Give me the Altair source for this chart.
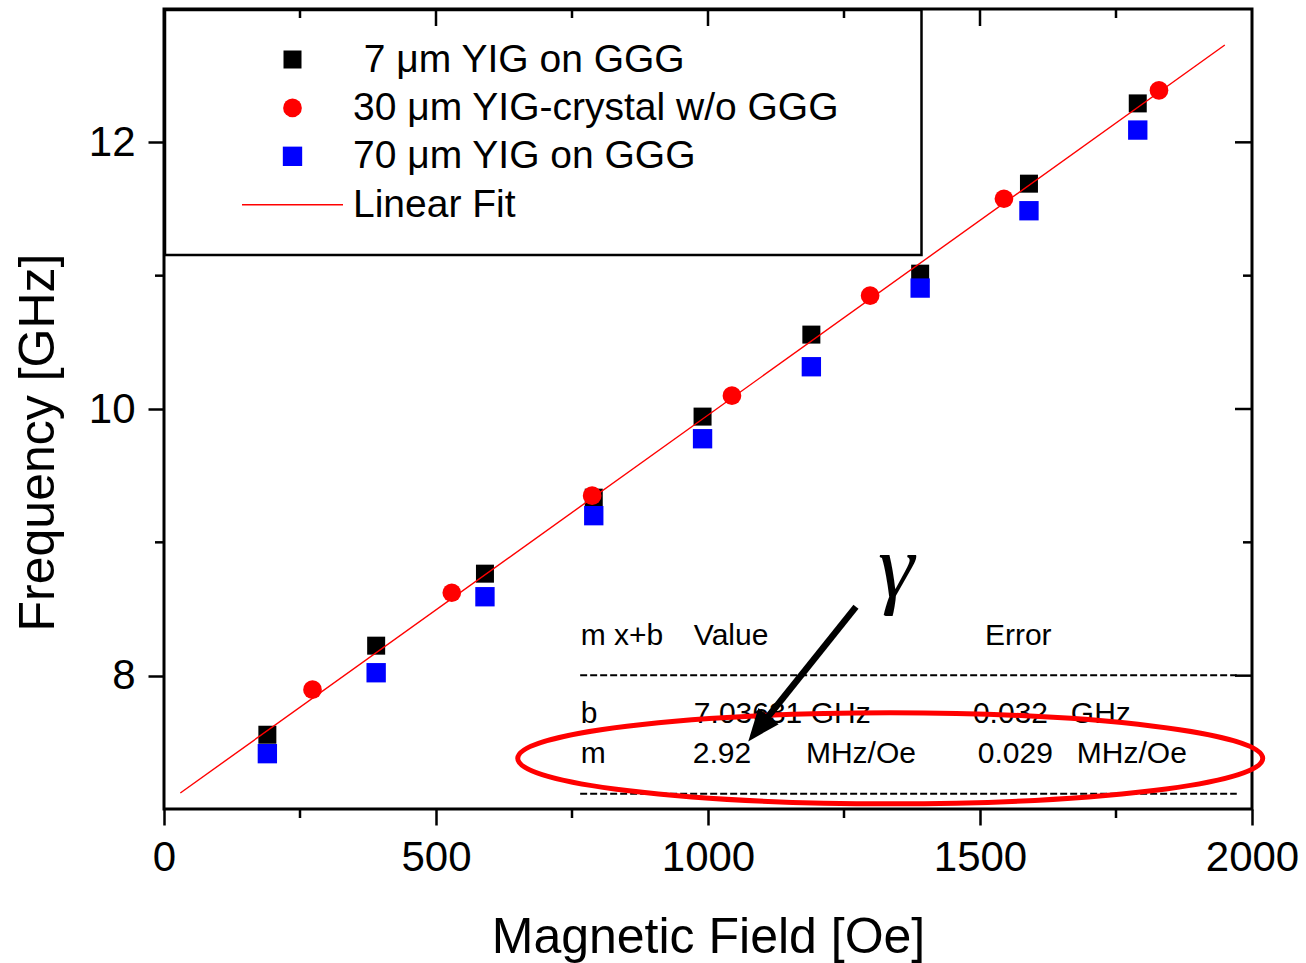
import math
import altair as alt
import pandas as pd

# ---------------- data ----------------
field_sq = [190, 390, 590, 790, 990, 1190, 1390, 1590, 1790]
freq_7um = [7.557, 8.225, 8.765, 9.335, 9.943, 10.558, 11.015, 11.69, 12.292]
freq_70um = [7.415, 8.022, 8.592, 9.20, 9.777, 10.317, 10.907, 11.487, 12.092]
field_30um = [273, 529, 787, 1044, 1298, 1544, 1829]
freq_30um = [7.895, 8.622, 9.350, 10.10, 10.85, 11.577, 12.39]
fit_field = [30, 1950]
fit_freq = [7.12, 12.73]

series_labels = ["\u200b 7 \u03bcm YIG on GGG", "30 \u03bcm YIG-crystal w/o GGG",
                 "70 \u03bcm YIG on GGG", "Linear Fit"]
series_colors = ["#000000", "#ff0000", "#0000ff", "#ff0000"]

x_major = [0, 500, 1000, 1500, 2000]
x_minor = [250, 750, 1250, 1750]
x_top_major = [500, 1000, 1500]
y_major = [8, 10, 12]
y_minor = [9, 11]

# fit table annotation
tab_x = [766, 974, 1509, 766, 974, 1487, 1667, 766, 972, 1180, 1496, 1678]
tab_y = [8.232, 8.232, 8.232, 7.645, 7.645, 7.645, 7.645, 7.345, 7.345, 7.345, 7.345, 7.345]
tab_text = ["m x+b", "Value", "Error", "b", "7.03631 GHz", "0.032", "GHz",
            "m", "2.92", "MHz/Oe", "0.029", "MHz/Oe"]
dash_x = [765, 765]
dash_x2 = [1972, 1972]
dash_y = [8.004, 7.115]

ellipse_x = [1335]
ellipse_y = [7.38]
arrow_start = [1272, 8.517]
arrow_tip = [1074, 7.507]
gamma_x = [1346]
gamma_y = [8.59]

# ---------------- layout constants ----------------
W, H = 1088, 800
XDOM, YDOM = [0, 2000], [7, 13]
FONT = "Liberation Sans"

xscale = alt.Scale(domain=XDOM, nice=False, zero=False)
yscale = alt.Scale(domain=YDOM, nice=False, zero=False)

xaxis = alt.Axis(values=x_major, title="Magnetic Field [Oe]", format="d", grid=False,
                 domain=False, tickSize=16, tickWidth=2.5, tickColor="black",
                 labelFontSize=42, labelFont=FONT, labelColor="black", labelPadding=12,
                 labelFlush=False, labelOverlap=False,
                 titleFont=FONT, titleFontSize=50, titleFontWeight="normal", titleColor="black",
                 titleX=W / 2, titleY=143, titleBaseline="alphabetic", titleAlign="center")
yaxis = alt.Axis(values=y_major, title="Frequency [GHz]", format="d", grid=False,
                 domain=False, tickSize=16, tickWidth=2.5, tickColor="black",
                 labelFontSize=42, labelFont=FONT, labelColor="black", labelPadding=13,
                 labelFlush=False, labelOverlap=False,
                 titleFont=FONT, titleFontSize=50, titleFontWeight="normal", titleColor="black",
                 titleX=-111, titleY=433, titleBaseline="alphabetic", titleAlign="center",
                 titleAngle=270)

X = alt.X("x:Q", scale=xscale, axis=xaxis)
Y = alt.Y("y:Q", scale=yscale, axis=yaxis)

# legend symbols: custom thin bar for the fit line entry
LINE_SYMBOL = "M-5.05,-0.07L5.05,-0.07L5.05,0.07L-5.05,0.07Z"
legend = alt.Legend(title=None, orient="none", legendX=109, legendY=31, padding=0,
                    symbolSize=484, symbolStrokeWidth=0, symbolOpacity=1,
                    labelFont=FONT, labelFontSize=39, labelColor="black", labelLimit=1000,
                    labelOffset=41, rowPadding=8.4)
color = alt.Color("series:N", scale=alt.Scale(domain=series_labels, range=series_colors),
                  legend=legend)
shape = alt.Shape("series:N", scale=alt.Scale(domain=series_labels,
                  range=["square", "circle", "square", LINE_SYMBOL]), legend=legend)
size = alt.Size("series:N", scale=alt.Scale(domain=series_labels, range=[324, 400, 324, 400]),
                legend=None)

# ---------------- tables ----------------
pts = pd.concat([
    pd.DataFrame({"x": field_sq, "y": freq_7um, "series": series_labels[0]}),
    pd.DataFrame({"x": field_sq, "y": freq_70um, "series": series_labels[2]}),
    pd.DataFrame({"x": field_30um, "y": freq_30um, "series": series_labels[1]}),
], ignore_index=True)
pts["order"] = range(len(pts))
fit = pd.DataFrame({"x": fit_field, "y": fit_freq, "series": series_labels[3]})

# ---------------- layers ----------------
def xticks(vals, y0, y1):
    return alt.Chart(pd.DataFrame({"x": vals})).mark_rule(
        color="black", strokeWidth=2.5).encode(x=X, y=alt.value(y0), y2=alt.value(y1))


def yticks(vals, x0, x1):
    return alt.Chart(pd.DataFrame({"y": vals})).mark_rule(
        color="black", strokeWidth=2.5).encode(y=Y, x=alt.value(x0), x2=alt.value(x1))


ticks = [
    xticks(x_minor, H, H + 9),          # bottom minor, outward
    xticks(x_minor, 0, 9),              # top minor, inward
    xticks(x_top_major, 0, 17),         # top major, inward
    yticks(y_minor, -9, 0),             # left minor, outward
    yticks(y_minor, W - 9, W),          # right minor, inward
    yticks(y_major, W - 17, W),         # right major, inward
]

legend_frame = alt.Chart(pd.DataFrame({"x": [0]})).mark_rect(
    fill="white", stroke="black", strokeWidth=2.5).encode(
    x=alt.value(1), x2=alt.value(757.5), y=alt.value(1), y2=alt.value(246))

dashes = alt.Chart(pd.DataFrame({"x": dash_x, "x2": dash_x2, "y": dash_y})).mark_rule(
    color="black", strokeWidth=2, strokeDash=[7, 3]).encode(x=X, x2="x2:Q", y=Y)

table = alt.Chart(pd.DataFrame({"x": tab_x, "y": tab_y, "t": tab_text})).mark_text(
    align="left", baseline="alphabetic", font=FONT, fontSize=30, color="black").encode(
    x=X, y=Y, text="t:N")

points = alt.Chart(pts).mark_point(filled=True, opacity=1, strokeWidth=0).encode(
    x=X, y=Y, color=color, shape=shape, size=size, order="order:Q")

fit_line = alt.Chart(fit).mark_line(strokeWidth=1.4).encode(x=X, y=Y, color=color)

b = 45.5 / 372.5
k = 0.5523
kb = k * b
ELLIPSE = (f"M-1,0C-1,{-kb:.4f} {-k},{-b:.4f} 0,{-b:.4f}C{k},{-b:.4f} 1,{-kb:.4f} 1,0"
           f"C1,{kb:.4f} {k},{b:.4f} 0,{b:.4f}C{-k},{b:.4f} -1,{kb:.4f} -1,0Z")
ellipse = alt.Chart(pd.DataFrame({"x": ellipse_x, "y": ellipse_y})).mark_point(
    shape=ELLIPSE, size=(2 * 372.5) ** 2, filled=False, stroke="#ff0000", strokeWidth=5,
    opacity=1).encode(x=X, y=Y)

# arrow: shaft + rotated head
frac = 0.84
shaft_end = [arrow_start[0] + frac * (arrow_tip[0] - arrow_start[0]),
             arrow_start[1] + frac * (arrow_tip[1] - arrow_start[1])]
shaft = alt.Chart(pd.DataFrame({"x": [arrow_start[0]], "y": [arrow_start[1]],
                                "x2": [shaft_end[0]], "y2": [shaft_end[1]]})).mark_rule(
    color="black", strokeWidth=6.5).encode(x=X, y=Y, x2="x2:Q", y2="y2:Q")
dx = (arrow_tip[0] - arrow_start[0]) * W / (XDOM[1] - XDOM[0])
dy = -(arrow_tip[1] - arrow_start[1]) * H / (YDOM[1] - YDOM[0])
ang = math.degrees(math.atan2(dx, -dy)) % 360
head = alt.Chart(pd.DataFrame({"x": [arrow_tip[0]], "y": [arrow_tip[1]]})).mark_point(
    shape="M0,0L-1,2.5L1,2.5Z", size=676, filled=True, color="black", opacity=1,
    angle=ang).encode(x=X, y=Y)

gamma = alt.Chart(pd.DataFrame({"x": gamma_x, "y": gamma_y})).mark_text(
    text="\u03b3", font="Liberation Serif", fontStyle="italic", fontSize=92,
    align="center", baseline="alphabetic", color="black").encode(x=X, y=Y)

chart = alt.layer(
    legend_frame, *ticks, dashes, table, points, fit_line, ellipse, shaft, head, gamma
).properties(
    width=W, height=H, background="white",
    padding={"left": 164, "top": 9, "right": 54, "bottom": 154},
    autosize=alt.AutoSizeParams(type="none"),
).configure_view(stroke="black", strokeWidth=3)

chart.save("out.html", embed_options={"renderer": "svg", "actions": False})
